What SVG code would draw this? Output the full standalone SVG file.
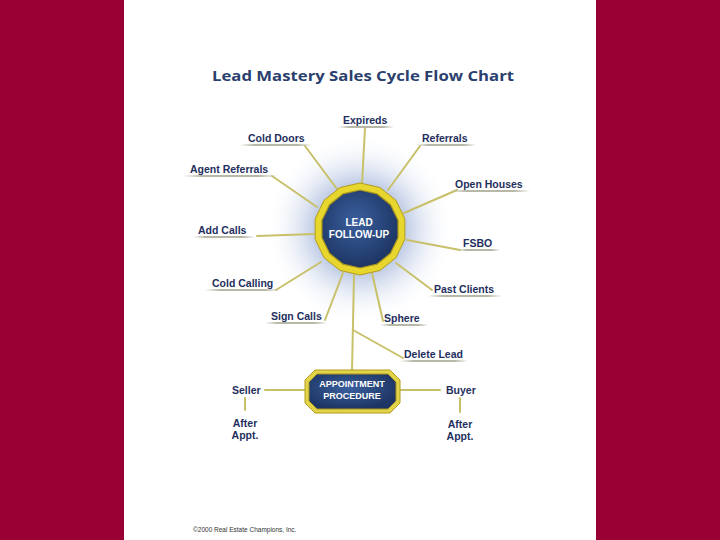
<svg xmlns="http://www.w3.org/2000/svg" width="720" height="540" viewBox="0 0 720 540">
<defs>
<radialGradient id="halo" cx="0.5" cy="0.5" r="0.5">
<stop offset="0" stop-color="#7f97c8"/>
<stop offset="0.45" stop-color="#b9c7e3"/>
<stop offset="1" stop-color="#ffffff" stop-opacity="0"/>
</radialGradient>
<radialGradient id="blue" cx="0.45" cy="0.4" r="0.6">
<stop offset="0" stop-color="#3a5f9e"/>
<stop offset="1" stop-color="#1d3563"/>
</radialGradient>
<linearGradient id="ulg" x1="0" y1="0" x2="1" y2="0">
<stop offset="0" stop-color="#b8b8a8" stop-opacity="0"/>
<stop offset="0.2" stop-color="#b8b8a8"/>
<stop offset="0.8" stop-color="#b8b8a8"/>
<stop offset="1" stop-color="#b8b8a8" stop-opacity="0"/>
</linearGradient>
<style>
.lbl{font-family:"Liberation Sans",Arial,sans-serif;font-weight:bold;font-size:10.5px;fill:#1f2f5e}
.wt{font-family:"Liberation Sans",Arial,sans-serif;font-weight:bold;fill:#ffffff;text-anchor:middle}
.con{stroke:#c9c06a;stroke-width:2;fill:none;stroke-linecap:round}
.ul{fill:url(#ulg)}
</style>
</defs>
<rect x="0" y="0" width="720" height="540" fill="#990033"/>
<rect x="124" y="0" width="472" height="540" fill="#ffffff"/>
<text x="212" y="81" font-family="'Open Sans','Liberation Sans',sans-serif" font-weight="bold" font-size="15" fill="#2b3f6e" textLength="302" lengthAdjust="spacingAndGlyphs">Lead Mastery Sales Cycle Flow Chart</text>
<circle cx="360" cy="229" r="95" fill="url(#halo)"/>
<g id="connectors">
<line class="con" x1="365" y1="128" x2="362" y2="184"/>
<line class="con" x1="305" y1="146" x2="337" y2="189"/>
<line class="con" x1="420" y1="146" x2="388" y2="190"/>
<line class="con" x1="272" y1="176" x2="317" y2="207"/>
<line class="con" x1="457" y1="190" x2="404" y2="213"/>
<line class="con" x1="257" y1="236" x2="314" y2="234"/>
<line class="con" x1="407" y1="240" x2="460" y2="250"/>
<line class="con" x1="276" y1="290" x2="321" y2="262"/>
<line class="con" x1="432" y1="290" x2="396" y2="263"/>
<line class="con" x1="325" y1="320" x2="343" y2="273"/>
<line class="con" x1="383" y1="321" x2="372" y2="273"/>
<line class="con" x1="354" y1="275" x2="352" y2="371"/>
<line class="con" x1="353" y1="330" x2="403" y2="358"/>
<line class="con" x1="265" y1="390" x2="305" y2="390"/>
<line class="con" x1="400" y1="390" x2="440" y2="390"/>
<line class="con" x1="245" y1="398" x2="245" y2="410"/>
<line class="con" x1="460" y1="398" x2="460" y2="412"/>
</g>
<g id="lead-follow-up">
<polygon points="360,183 379.96,187.55 395.96,200.32 404.85,218.77 404.85,239.23 395.96,257.68 379.96,270.45 360,275 340.04,270.45 324.04,257.68 315.15,239.23 315.15,218.77 324.04,200.32 340.04,187.55" fill="#e6d62e" stroke="#b39d1c" stroke-width="1"/>
<polygon points="360,190 376.92,193.86 390.49,204.68 398.02,220.32 398.02,237.68 390.49,253.32 376.92,264.14 360,268 343.08,264.14 329.51,253.32 321.98,237.68 321.98,220.32 329.51,204.68 343.08,193.86" fill="url(#blue)" stroke="#a8931a" stroke-width="1.2"/>
<text class="wt" x="359" y="226" font-size="10">LEAD</text>
<text class="wt" x="359" y="238" font-size="10">FOLLOW-UP</text>
</g>
<g id="appointment-procedure">
<polygon points="315,370 390,370 400,380 400,403 390,413 315,413 305,403 305,380" fill="#e2d44a" stroke="#b39d1c" stroke-width="1"/>
<polygon points="317,374 388,374 396,382 396,401 388,409 317,409 309,401 309,382" fill="url(#blue)" stroke="#a8931a" stroke-width="1"/>
<text class="wt" x="352" y="387" font-size="9">APPOINTMENT</text>
<text class="wt" x="352" y="399" font-size="9">PROCEDURE</text>
</g>
<g id="expireds"><rect class="ul" x="338" y="126" width="56" height="2"/><text class="lbl" x="343" y="124">Expireds</text></g>
<g id="cold-doors"><rect class="ul" x="240" y="144" width="72" height="2"/><text class="lbl" x="248" y="142">Cold Doors</text></g>
<g id="referrals"><rect class="ul" x="416" y="144" width="60" height="2"/><text class="lbl" x="422" y="142">Referrals</text></g>
<g id="agent-referrals"><rect class="ul" x="183" y="175" width="95" height="2"/><text class="lbl" x="190" y="173">Agent Referrals</text></g>
<g id="open-houses"><rect class="ul" x="450" y="190" width="80" height="2"/><text class="lbl" x="455" y="188">Open Houses</text></g>
<g id="add-calls"><rect class="ul" x="193" y="236" width="62" height="2"/><text class="lbl" x="198" y="234">Add Calls</text></g>
<g id="fsbo"><rect class="ul" x="458" y="249" width="42" height="2"/><text class="lbl" x="463" y="247">FSBO</text></g>
<g id="cold-calling"><rect class="ul" x="205" y="289" width="75" height="2"/><text class="lbl" x="212" y="287">Cold Calling</text></g>
<g id="past-clients"><rect class="ul" x="428" y="295" width="74" height="2"/><text class="lbl" x="434" y="293">Past Clients</text></g>
<g id="sign-calls"><rect class="ul" x="265" y="322" width="62" height="2"/><text class="lbl" x="271" y="320">Sign Calls</text></g>
<g id="sphere"><rect class="ul" x="380" y="324" width="48" height="2"/><text class="lbl" x="384" y="322">Sphere</text></g>
<g id="delete-lead"><rect class="ul" x="400" y="360" width="68" height="2"/><text class="lbl" x="404" y="358">Delete Lead</text></g>
<g id="seller"><text class="lbl" x="232" y="394" font-size="10">Seller</text></g>
<g id="buyer"><text class="lbl" x="446" y="394" font-size="10">Buyer</text></g>
<g id="after-appt-seller"><text class="lbl" x="245" y="427" text-anchor="middle" font-size="10">After</text><text class="lbl" x="245" y="439" text-anchor="middle" font-size="10">Appt.</text></g>
<g id="after-appt-buyer"><text class="lbl" x="460" y="428" text-anchor="middle" font-size="10">After</text><text class="lbl" x="460" y="440" text-anchor="middle" font-size="10">Appt.</text></g>
<text x="193" y="532" font-family="'Liberation Sans',Arial,sans-serif" font-size="6.5" fill="#333333">©2000 Real Estate Champions, Inc.</text>
</svg>
